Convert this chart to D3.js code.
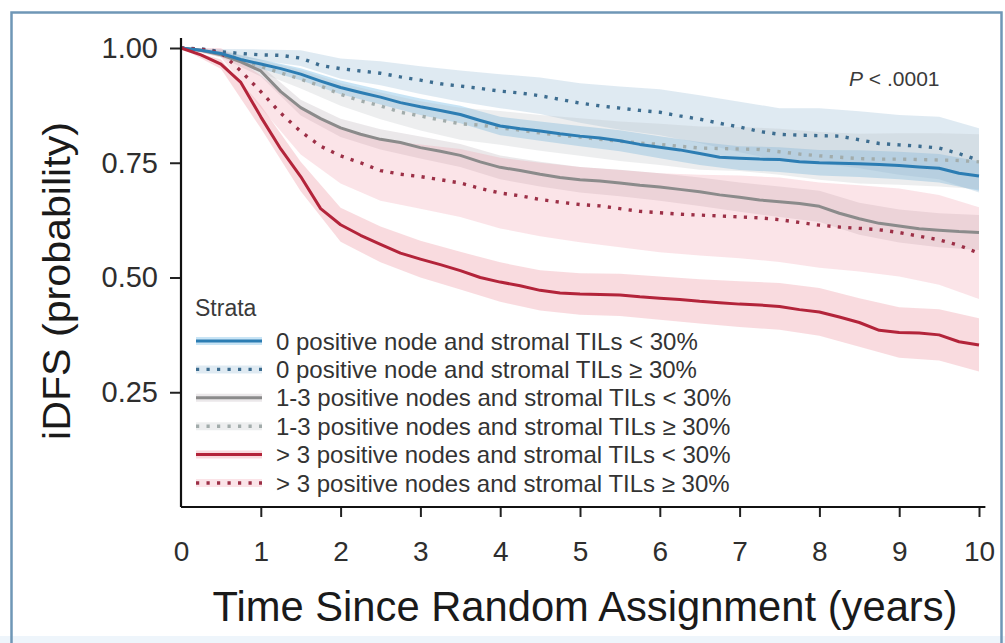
<!DOCTYPE html>
<html>
<head>
<meta charset="utf-8">
<script src="https://cdn.jsdelivr.net/npm/d3@7"></script>
<style>
  html, body { margin: 0; padding: 0; background: #ffffff; }
  svg { display: block; }
  text { font-family: "Liberation Sans", Arial, Helvetica, sans-serif; }
</style>
</head>
<body>
<svg id="chart" width="1005" height="643"></svg>
<script>
// ---- Kaplan-Meier estimates for invasive disease-free survival ----
// follow-up grid (years) for the survival estimates
const timeGrid = [0, 0.25, 0.5, 0.75, 1, 1.25, 1.5, 1.75, 2, 2.25, 2.5, 2.75, 3, 3.25, 3.5, 3.75,
  4, 4.25, 4.5, 4.75, 5, 5.25, 5.5, 5.75, 6, 6.25, 6.5, 6.75, 7, 7.25, 7.5, 7.75,
  8, 8.25, 8.5, 8.75, 9, 9.25, 9.5, 9.75, 10];
// follow-up grid (years) for the 95% confidence bands
const bandGrid = [0, 0.5, 1, 1.5, 2, 2.5, 3, 3.5, 4, 4.5, 5, 5.5, 6, 6.5, 7, 7.5, 8, 8.5, 9, 9.5, 10];

const strataLabels = [
  "0 positive node and stromal TILs < 30%",
  "0 positive node and stromal TILs \u2265 30%",
  "1-3 positive nodes and stromal TILs < 30%",
  "1-3 positive nodes and stromal TILs \u2265 30%",
  "> 3 positive nodes and stromal TILs < 30%",
  "> 3 positive nodes and stromal TILs \u2265 30%"
];

// 0 positive node, TILs < 30%
const node0LowTil = [1, 0.995, 0.988, 0.975, 0.965, 0.955, 0.943, 0.928, 0.914, 0.903, 0.893, 0.881, 0.872, 0.864, 0.855, 0.842,
  0.830, 0.824, 0.819, 0.813, 0.808, 0.804, 0.798, 0.790, 0.784, 0.778, 0.770, 0.762, 0.760, 0.758, 0.757, 0.752,
  0.750, 0.749, 0.748, 0.746, 0.744, 0.741, 0.738, 0.727, 0.721];
const node0LowTilUpper = [1, 0.993, 0.975, 0.956, 0.929, 0.909, 0.890, 0.874, 0.850, 0.840, 0.830, 0.821, 0.808, 0.795, 0.786, 0.784, 0.778, 0.777, 0.774, 0.769, 0.753];
const node0LowTilLower = [1, 0.983, 0.955, 0.930, 0.899, 0.877, 0.854, 0.836, 0.810, 0.798, 0.786, 0.775, 0.760, 0.745, 0.734, 0.730, 0.722, 0.719, 0.714, 0.707, 0.689];

// 0 positive node, TILs >= 30%
const node0HighTil = [1, 0.998, 0.992, 0.988, 0.985, 0.984, 0.978, 0.962, 0.955, 0.950, 0.945, 0.937, 0.930, 0.922, 0.917, 0.912,
  0.906, 0.902, 0.896, 0.888, 0.880, 0.874, 0.869, 0.864, 0.860, 0.852, 0.845, 0.836, 0.828, 0.818, 0.812, 0.810,
  0.809, 0.808, 0.800, 0.792, 0.789, 0.786, 0.782, 0.770, 0.755];
const node0HighTilUpper = [1, 0.998, 0.997, 0.995, 0.977, 0.971, 0.960, 0.951, 0.943, 0.936, 0.923, 0.916, 0.910, 0.897, 0.883, 0.869, 0.869, 0.862, 0.854, 0.850, 0.825];
const node0HighTilLower = [1, 0.986, 0.973, 0.961, 0.933, 0.919, 0.900, 0.883, 0.869, 0.856, 0.837, 0.822, 0.810, 0.793, 0.773, 0.755, 0.749, 0.738, 0.724, 0.714, 0.685];

// 1-3 positive nodes, TILs < 30%
const node13LowTil = [1, 0.995, 0.985, 0.970, 0.950, 0.905, 0.870, 0.846, 0.826, 0.812, 0.801, 0.794, 0.783, 0.775, 0.766, 0.752,
  0.740, 0.733, 0.725, 0.718, 0.713, 0.710, 0.706, 0.701, 0.697, 0.692, 0.687, 0.680, 0.675, 0.669, 0.665, 0.661,
  0.655, 0.640, 0.628, 0.618, 0.612, 0.606, 0.603, 0.600, 0.598];
const node13LowTilUpper = [1, 0.990, 0.962, 0.887, 0.846, 0.823, 0.807, 0.791, 0.766, 0.752, 0.741, 0.735, 0.727, 0.718, 0.707, 0.698, 0.689, 0.663, 0.648, 0.640, 0.636];
const node13LowTilLower = [1, 0.980, 0.938, 0.853, 0.806, 0.779, 0.759, 0.741, 0.714, 0.698, 0.685, 0.677, 0.667, 0.656, 0.643, 0.632, 0.621, 0.593, 0.576, 0.566, 0.560];

// 1-3 positive nodes, TILs >= 30%
const node13HighTil = [1, 0.997, 0.990, 0.975, 0.960, 0.946, 0.932, 0.917, 0.899, 0.885, 0.874, 0.860, 0.852, 0.843, 0.835, 0.832,
  0.826, 0.821, 0.815, 0.810, 0.806, 0.801, 0.797, 0.793, 0.790, 0.786, 0.782, 0.781, 0.780, 0.779, 0.774, 0.769,
  0.765, 0.762, 0.759, 0.758, 0.758, 0.757, 0.756, 0.755, 0.752];
const node13HighTilUpper = [1, 0.996, 0.974, 0.952, 0.924, 0.903, 0.884, 0.870, 0.863, 0.854, 0.847, 0.840, 0.835, 0.829, 0.828, 0.824, 0.817, 0.813, 0.814, 0.814, 0.812];
const node13HighTilLower = [1, 0.984, 0.946, 0.912, 0.874, 0.845, 0.820, 0.800, 0.789, 0.776, 0.765, 0.754, 0.745, 0.735, 0.732, 0.724, 0.713, 0.705, 0.702, 0.698, 0.692];

// > 3 positive nodes, TILs < 30%
const node4LowTil = [1, 0.985, 0.965, 0.925, 0.850, 0.780, 0.720, 0.650, 0.615, 0.592, 0.572, 0.553, 0.540, 0.528, 0.515, 0.500,
  0.490, 0.482, 0.472, 0.466, 0.464, 0.463, 0.462, 0.458, 0.455, 0.452, 0.448, 0.445, 0.442, 0.440, 0.437, 0.430,
  0.425, 0.414, 0.402, 0.385, 0.380, 0.379, 0.375, 0.360, 0.353];
const node4LowTilUpper = [1, 0.975, 0.875, 0.752, 0.652, 0.611, 0.580, 0.556, 0.533, 0.516, 0.509, 0.508, 0.502, 0.496, 0.492, 0.488, 0.477, 0.455, 0.435, 0.431, 0.411];
const node4LowTilLower = [1, 0.955, 0.825, 0.688, 0.578, 0.533, 0.500, 0.474, 0.447, 0.428, 0.419, 0.416, 0.408, 0.400, 0.392, 0.386, 0.373, 0.349, 0.325, 0.319, 0.295];

// > 3 positive nodes, TILs >= 30%
const node4HighTil = [1, 0.997, 0.990, 0.950, 0.905, 0.858, 0.818, 0.786, 0.765, 0.750, 0.733, 0.725, 0.720, 0.713, 0.706, 0.694,
  0.684, 0.678, 0.670, 0.664, 0.659, 0.656, 0.650, 0.644, 0.641, 0.638, 0.636, 0.634, 0.632, 0.630, 0.626, 0.620,
  0.614, 0.610, 0.607, 0.604, 0.598, 0.590, 0.582, 0.570, 0.553];
const node4HighTilUpper = [1, 1.000, 0.940, 0.868, 0.825, 0.799, 0.790, 0.780, 0.761, 0.750, 0.741, 0.734, 0.727, 0.724, 0.722, 0.718, 0.707, 0.701, 0.694, 0.680, 0.653];
const node4HighTilLower = [1, 0.980, 0.870, 0.768, 0.705, 0.667, 0.650, 0.632, 0.607, 0.590, 0.577, 0.566, 0.555, 0.548, 0.542, 0.534, 0.521, 0.513, 0.502, 0.484, 0.453];

const xTicks = [0, 1, 2, 3, 4, 5, 6, 7, 8, 9, 10];
const yTicks = [0.25, 0.50, 0.75, 1.00];

// ---- styling per stratum ----
const strata = [
  { label: strataLabels[0], est: node0LowTil,  lo: node0LowTilLower,  hi: node0LowTilUpper,
    color: "#2c7db3", dotted: false, band: "rgba(110,185,230,0.38)" },
  { label: strataLabels[1], est: node0HighTil, lo: node0HighTilLower, hi: node0HighTilUpper,
    color: "#3d6d90", dotted: true,  band: "rgba(150,185,212,0.30)" },
  { label: strataLabels[2], est: node13LowTil, lo: node13LowTilLower, hi: node13LowTilUpper,
    color: "#8b8b8b", dotted: false, band: "rgba(165,150,158,0.22)" },
  { label: strataLabels[3], est: node13HighTil, lo: node13HighTilLower, hi: node13HighTilUpper,
    color: "#a2acab", dotted: true,  band: "rgba(180,185,190,0.24)" },
  { label: strataLabels[4], est: node4LowTil,  lo: node4LowTilLower,  hi: node4LowTilUpper,
    color: "#b3243a", dotted: false, band: "rgba(236,135,150,0.30)" },
  { label: strataLabels[5], est: node4HighTil, lo: node4HighTilLower, hi: node4HighTilUpper,
    color: "#9c2f46", dotted: true,  band: "rgba(238,150,165,0.26)" }
];

const svg = d3.select("#chart");

// outer frame
svg.append("rect").attr("x", 0).attr("y", 636).attr("width", 1005).attr("height", 7).attr("fill", "#eef5fb");
svg.append("rect")
  .attr("x", 11.5).attr("y", 12.5).attr("width", 990).attr("height", 660)
  .attr("fill", "none").attr("stroke", "#6f97b6").attr("stroke-width", 2.5);

const x = d3.scaleLinear().domain([0, 10]).range([181, 979]);
const y = d3.scaleLinear().domain([0, 1]).range([507, 48]);

// confidence bands
const area = d3.area()
  .x(d => x(d.t)).y0(d => y(d.lo)).y1(d => y(d.hi))
  .curve(d3.curveLinear);

const bandLayer = svg.append("g");
strata.forEach(s => {
  const rows = bandGrid.map((t, i) => ({ t, lo: s.lo[i], hi: s.hi[i] }));
  bandLayer.append("path").datum(rows)
    .attr("d", area)
    .attr("fill", s.band);
});

// survival curves
const line = d3.line().x(d => x(d.t)).y(d => y(d.v)).curve(d3.curveLinear);
const drawOrder = [3, 1, 2, 5, 0, 4];
const lineLayer = svg.append("g");
drawOrder.forEach(k => {
  const s = strata[k];
  const rows = timeGrid.map((t, i) => ({ t, v: s.est[i] }));
  const p = lineLayer.append("path").datum(rows)
    .attr("d", line)
    .attr("fill", "none")
    .attr("stroke", s.color)
    .attr("stroke-linejoin", "round");
  if (s.dotted) {
    p.attr("stroke-width", 3.4).attr("stroke-dasharray", "3.2 7.3");
  } else {
    p.attr("stroke-width", 3);
  }
});

// axes
const yAxis = d3.axisLeft(y)
  .tickValues(yTicks)
  .tickFormat(d3.format(".2f"))
  .tickSize(11)
  .tickPadding(12);
const gy = svg.append("g").attr("transform", `translate(${x(0)},0)`).call(yAxis);
gy.select(".domain").remove();
gy.selectAll(".tick line").attr("stroke", "#222").attr("stroke-width", 2);
gy.selectAll(".tick text")
  .attr("fill", "#2e2e2e")
  .style("font-size", "29px");

const xAxis = d3.axisBottom(x)
  .tickValues(xTicks)
  .tickFormat(d3.format("d"))
  .tickSize(10)
  .tickPadding(24);
const gx = svg.append("g").attr("transform", `translate(0,${y(0)})`).call(xAxis);
gx.select(".domain").remove();
gx.selectAll(".tick line").attr("stroke", "#222").attr("stroke-width", 2)
  .filter(d => d === 0).remove();
gx.selectAll(".tick text")
  .attr("fill", "#2e2e2e")
  .style("font-size", "28px");

// axis lines
svg.append("line")
  .attr("x1", x(0)).attr("x2", x(0))
  .attr("y1", y(0)).attr("y2", y(1.022))
  .attr("stroke", "#111").attr("stroke-width", 2.2);
svg.append("line")
  .attr("x1", x(0)).attr("x2", x(10.08))
  .attr("y1", y(0)).attr("y2", y(0))
  .attr("stroke", "#111").attr("stroke-width", 2.2);

// axis titles
svg.append("text")
  .attr("x", 585).attr("y", 621)
  .attr("text-anchor", "middle")
  .attr("textLength", 745).attr("lengthAdjust", "spacingAndGlyphs")
  .attr("fill", "#1a1a1a")
  .style("font-size", "43px")
  .style("font-family", "'Liberation Sans Narrow', 'Liberation Sans', Arial, sans-serif")
  .text("Time Since Random Assignment (years)");

svg.append("text")
  .attr("transform", "translate(70,281) rotate(-90)")
  .attr("text-anchor", "middle")
  .attr("textLength", 318).attr("lengthAdjust", "spacingAndGlyphs")
  .attr("fill", "#1a1a1a")
  .style("font-size", "39px")
  .style("font-family", "'Liberation Sans Narrow', 'Liberation Sans', Arial, sans-serif")
  .text("iDFS (probability)");

// log-rank p value
const pText = svg.append("text")
  .attr("x", 849).attr("y", 86)
  .attr("fill", "#3a3a3a")
  .style("font-size", "21px");
pText.append("tspan").style("font-style", "italic").text("P");
pText.append("tspan").text(" < .0001");

// legend
const legend = svg.append("g");
legend.append("text")
  .attr("x", 195).attr("y", 316)
  .attr("fill", "#3a3a3a")
  .style("font-size", "23px")
  .text("Strata");

const rowY = d3.scaleLinear().domain([0, 5]).range([341, 483]);
strata.forEach((s, i) => {
  const cy = rowY(i);
  legend.append("line")
    .attr("x1", 196).attr("x2", 262).attr("y1", cy).attr("y2", cy)
    .attr("stroke", s.band).attr("stroke-width", 8);
  const l = legend.append("line")
    .attr("x1", 196).attr("x2", 262).attr("y1", cy).attr("y2", cy)
    .attr("stroke", s.color);
  if (s.dotted) l.attr("stroke-width", 3.4).attr("stroke-dasharray", "3.2 7.3");
  else l.attr("stroke-width", 3);
  legend.append("text")
    .attr("x", 276).attr("y", cy + 8.5)
    .attr("fill", "#333")
    .style("font-size", "24px")
    .text(s.label);
});
</script>
</body>
</html>
